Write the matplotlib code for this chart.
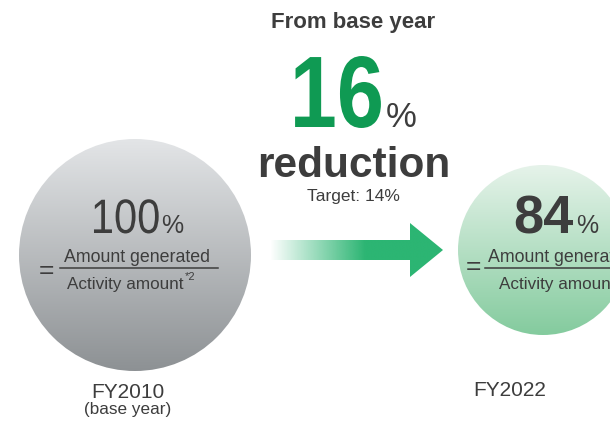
import numpy as np
import matplotlib
matplotlib.use("Agg")
import matplotlib.pyplot as plt
from matplotlib.patches import Circle, Polygon
from matplotlib.colors import to_rgb
from matplotlib.patheffects import AbstractPathEffect
from matplotlib.transforms import Affine2D

# ---- data ----
years = ["FY2010", "FY2022"]
year_notes = ["(base year)", ""]
values = [100, 84]          # % of base year (amount generated / activity amount)
target = 14                 # target reduction, %
reduction = values[0] - values[1]

FONT = "Liberation Sans"
TXT = "#3d3d3d"
GREEN = "#0f9a53"
ARROW = "#2cb573"

fig = plt.figure(figsize=(6.1, 4.3), dpi=100)
ax = fig.add_axes([0, 0, 1, 1])
ax.set_xlim(0, 610)
ax.set_ylim(430, 0)
ax.axis("off")


class Tall(AbstractPathEffect):
    """Stretch glyphs vertically about the baseline (gives a condensed look)."""
    def __init__(self, by, sy):
        super().__init__()
        self.by = by
        self.sy = sy

    def draw_path(self, renderer, gc, tpath, affine, rgbFace=None):
        t = affine + Affine2D().translate(0, -self.by).scale(1, self.sy).translate(0, self.by)
        renderer.draw_path(gc, tpath, t, rgbFace)


def tall_text(x, y, s, sy, **kw):
    by = ax.transData.transform((x, y))[1]
    return ax.text(x, y, s, path_effects=[Tall(by, sy)], **kw)


def grad_circle(cx, cy, r, top, bottom):
    t = np.linspace(0, 1, 256)[:, None, None]
    img = (1 - t) * np.array(to_rgb(top)) + t * np.array(to_rgb(bottom))
    img = np.repeat(img, 2, axis=1)
    im = ax.imshow(img, extent=(cx - r, cx + r, cy + r, cy - r), origin="upper",
                   interpolation="bilinear", zorder=1)
    c = Circle((cx, cy), r, transform=ax.transData, fc="none", ec="none")
    ax.add_patch(c)
    im.set_clip_path(c)


grad_circle(135, 255, 116, "#e3e5e7", "#8d9194")
grad_circle(543, 250, 85, "#e6f3ea", "#84cb9e")

# arrow with fading tail
poly = Polygon([(270, 240), (410, 240), (410, 223), (443, 250), (410, 277),
                (410, 260), (270, 260)], closed=True, fc="none", ec="none")
ax.add_patch(poly)
xs = np.linspace(270, 445, 400)
alpha = np.clip((xs - 270) / (365 - 270), 0, 1)
rgb = np.array(to_rgb(ARROW))
arr = np.ones((2, len(xs), 4))
arr[:, :, :3] = rgb
arr[:, :, 3] = alpha
im = ax.imshow(arr, extent=(270, 445, 280, 220), origin="upper",
               interpolation="bilinear", zorder=2)
im.set_clip_path(poly)

# headline
ax.text(353.5, 28, "From base year", fontsize=16, fontweight="bold", color=TXT,
        family=FONT, ha="center", va="baseline")
tall_text(337, 127, f"{reduction}", 1.2, fontsize=61, fontweight="bold",
          color=GREEN, family=FONT, ha="center", va="baseline")
ax.text(386, 127, "%", fontsize=25, color=TXT, family=FONT, ha="left", va="baseline")
ax.text(353.5, 177, "reduction", fontsize=30.5, fontweight="bold", color=TXT,
        family=FONT, ha="center", va="baseline")
ax.text(353, 201, f"Target: {target}%", fontsize=12.5, color=TXT, family=FONT,
        ha="center", va="baseline")

# base-year circle content
tall_text(125.5, 233, f"{values[0]}", 1.16, fontsize=30, color=TXT, family=FONT,
          ha="center", va="baseline", zorder=3)
ax.text(161, 233, "%", fontsize=18, color=TXT, family=FONT, ha="left",
        va="baseline", zorder=3)
ax.text(46.5, 268, "=", fontsize=19, color=TXT, family=FONT, ha="center",
        va="center_baseline", zorder=3)
ax.plot([60, 218], [268, 268], color=TXT, lw=1.1, zorder=3)
ax.text(137, 262, "Amount generated", fontsize=12.8, color=TXT, family=FONT,
        ha="center", va="baseline", zorder=3)
ax.text(67, 289, "Activity amount", fontsize=12.3, color=TXT, family=FONT,
        ha="left", va="baseline", zorder=3)
ax.text(185, 280, "*2", fontsize=8, color=TXT, family=FONT, ha="left",
        va="baseline", zorder=3)

# current-year circle content
ax.text(543.5, 233, f"{values[1]}", fontsize=39, fontweight="bold", color=TXT,
        family=FONT, ha="center", va="baseline", zorder=3)
ax.text(576, 233, "%", fontsize=18, color=TXT, family=FONT, ha="left",
        va="baseline", zorder=3)
ax.text(473.5, 265, "=", fontsize=19, color=TXT, family=FONT, ha="center",
        va="center_baseline", zorder=3)
ax.plot([485, 612], [268, 268], color=TXT, lw=1.1, zorder=3)
ax.text(488, 262, "Amount generated", fontsize=12.8, color=TXT, family=FONT,
        ha="left", va="baseline", zorder=3)
ax.text(499, 289, "Activity amount", fontsize=12.3, color=TXT, family=FONT,
        ha="left", va="baseline", zorder=3)

# year labels
ax.text(128, 398, years[0], fontsize=15, color=TXT, family=FONT, ha="center",
        va="baseline")
ax.text(128, 414, year_notes[0], fontsize=12.3, color=TXT, family=FONT,
        ha="center", va="baseline")
ax.text(510, 396, years[1], fontsize=15, color=TXT, family=FONT, ha="center",
        va="baseline")

fig.savefig("out.png", dpi=100)
